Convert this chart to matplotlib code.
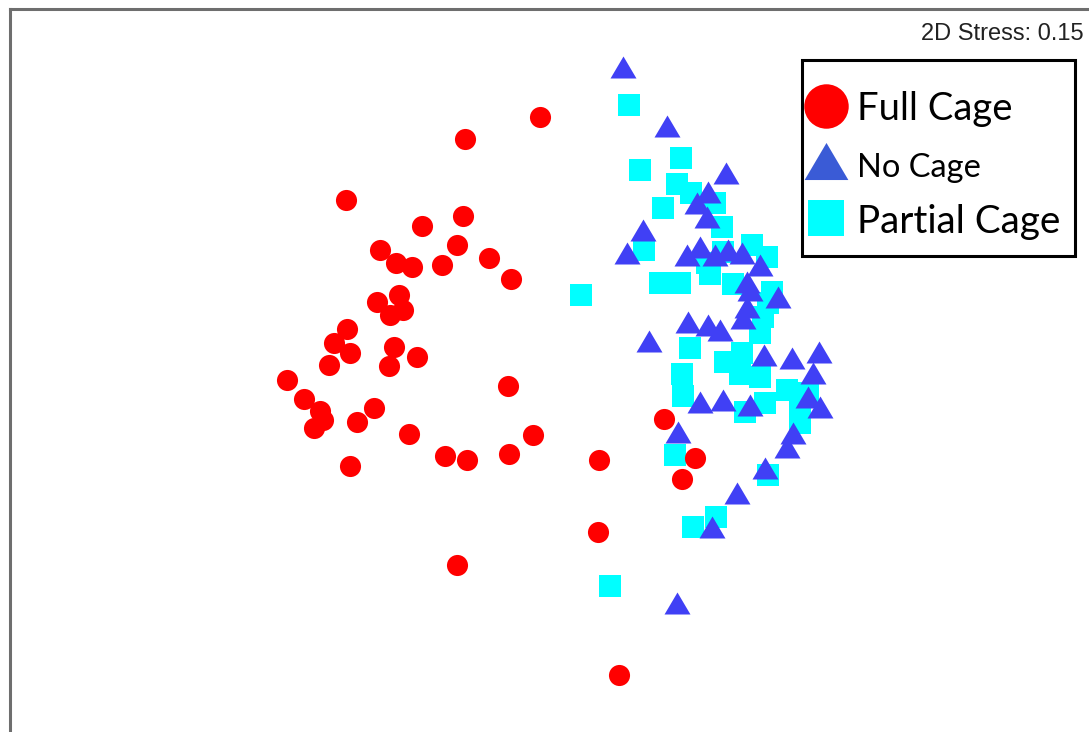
import matplotlib
matplotlib.use("Agg")
import matplotlib.pyplot as plt
from matplotlib.patches import Rectangle
from matplotlib.lines import Line2D

# nMDS ordination scores
full_x = [-0.10, -0.85, -2.04, -0.87, -1.28, -0.93, -1.70, -1.54, -1.38, -1.08, -0.61,
          -0.39, -1.51, -1.73, -1.47, -1.60, -2.03, -2.16, -2.00, -2.21, -1.56, -1.61,
          -1.33, -2.63, -2.46, -2.30, -2.27, -2.36, -1.76, -1.93, -1.41, -2.00, -0.42,
          -0.17, -0.41, -1.05, -0.83, -0.93, 0.49, 1.14, 1.45, 1.32, 0.48, 0.69]
full_y = [2.83, 2.61, 2.00, 1.84, 1.74, 1.55, 1.50, 1.37, 1.33, 1.35, 1.42,
          1.21, 1.05, 0.98, 0.90, 0.85, 0.71, 0.57, 0.47, 0.35, 0.53, 0.34,
          0.43, 0.20, 0.01, -0.11, -0.20, -0.28, -0.08, -0.22, -0.34, -0.66, 0.14,
          -0.35, -0.54, -0.56, -0.60, -1.65, -0.60, -0.19, -0.58, -0.79, -1.32, -2.75]

no_x = [0.73, 1.17, 1.76, 1.58, 1.47, 1.57, 0.93, 0.77, 1.37, 1.50, 1.65, 1.78, 1.92,
        2.10, 1.97, 2.28, 2.00, 1.97, 1.93, 1.38, 1.58, 1.70, 0.99, 2.14, 2.42, 2.69,
        2.63, 1.50, 1.73, 2.00, 2.58, 2.70, 2.43, 2.37, 1.28, 2.15, 1.87, 1.62, 1.27]
no_y = [3.33, 2.74, 2.27, 2.08, 1.97, 1.83, 1.70, 1.47, 1.45, 1.53, 1.45, 1.50, 1.47,
        1.35, 1.18, 1.03, 1.10, 0.93, 0.82, 0.78, 0.75, 0.70, 0.59, 0.45, 0.42, 0.48,
        0.27, -0.02, 0.00, -0.05, 0.03, -0.07, -0.33, -0.47, -0.32, -0.68, -0.93, -1.27, -2.03]

partial_x = [0.79, 1.31, 0.90, 1.27, 1.41, 1.65, 1.13, 1.72, 0.94, 1.57, 1.73, 2.02, 2.17,
             1.10, 1.30, 1.60, 1.83, 2.22, 0.31, 2.13, 2.18, 2.10, 1.40, 1.92, 1.75, 1.90,
             2.10, 1.32, 1.33, 2.37, 2.58, 1.95, 2.15, 2.50, 2.50, 1.25, 2.18, 1.66, 1.43, 0.60]
partial_y = [2.95, 2.42, 2.30, 2.16, 2.07, 1.97, 1.92, 1.73, 1.50, 1.37, 1.48, 1.55, 1.43,
             1.17, 1.17, 1.26, 1.16, 1.08, 1.05, 0.83, 0.97, 0.67, 0.52, 0.47, 0.38, 0.26,
             0.23, 0.26, 0.04, 0.10, 0.07, -0.12, -0.03, -0.12, -0.23, -0.55, -0.75, -1.17, -1.27, -1.86]

labels = ["Full Cage", "No Cage", "Partial Cage"]
stress = 0.15

W, H = 1089, 732
fig = plt.figure(figsize=(W / 100, H / 100), dpi=100)

# frame only shows left and top edges, the rest runs off the image
ax = fig.add_axes([10 / W, 0, (W - 10) / W, (H - 9) / H])
ax.set_xlim(-5.40, 5.39)
ax.set_ylim(-3.32, 3.91)
ax.set_xticks([])
ax.set_yticks([])
for side in ["right", "bottom"]:
    ax.spines[side].set_visible(False)
for side in ["left", "top"]:
    ax.spines[side].set_color("#6e6e6e")
    ax.spines[side].set_linewidth(2.2)

tri = [(0, 1), (-1.18, -1), (1.18, -1)]
ax.plot(partial_x, partial_y, ls="none", marker="s", ms=15.8, mew=0, color="#00ffff", zorder=2)
ax.plot(full_x, full_y, ls="none", marker="o", ms=15.2, mew=0, color="#ff0000", zorder=3)
ax.plot(no_x, no_y, ls="none", marker=tri, ms=18.7, mew=0, color="#4040f5", zorder=4)

fig.text(1084 / W, 1 - 40 / H, "2D Stress: %.2f" % stress, ha="right", va="baseline",
         fontsize=17, family="Liberation Sans", color="#222222")


# legend drawn by hand in pixel positions
def fx(px):
    return px / W


def fy(py):
    return 1 - py / H


fig.patches.append(Rectangle((fx(802), fy(256)), (1075 - 802) / W, (256 - 60) / H,
                             transform=fig.transFigure, fill=False, edgecolor="black",
                             linewidth=2.2, zorder=10))
leg_markers = [("o", 32, "#ff0000", 106), (tri, 31.5, "#3a5bd6", 161), ("s", 26, "#00ffff", 218)]
for m, size, col, py in leg_markers:
    fig.lines.append(Line2D([fx(826)], [fy(py)], transform=fig.transFigure, marker=m,
                            ms=size, mew=0, color=col, ls="none", zorder=11))
leg_text = [(labels[0], 120, 27.5), (labels[1], 177, 23.5), (labels[2], 233, 27.8)]
for txt, py, fs in leg_text:
    fig.text(fx(857), fy(py), txt, ha="left", va="baseline", fontsize=fs, family="Lato",
             color="black", zorder=11)

fig.savefig("out.png", dpi=100)
